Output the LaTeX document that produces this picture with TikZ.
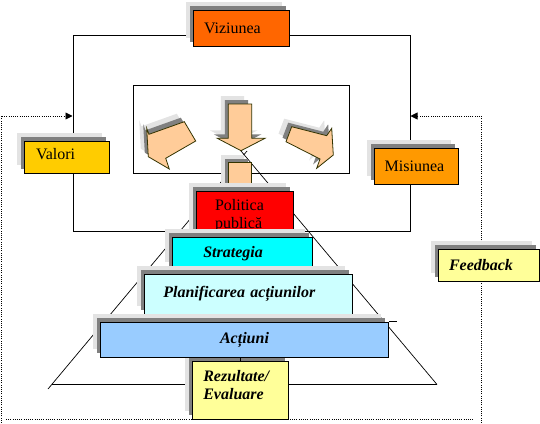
\documentclass[tikz,border=0pt]{standalone}
\usepackage{fontspec}
\setmainfont{Liberation Serif}
\usetikzlibrary{positioning,shadows,arrows.meta}
\definecolor{viziune}{HTML}{FF6600}
\definecolor{valori}{HTML}{FFCC00}
\definecolor{misiune}{HTML}{FF9900}
\definecolor{politica}{HTML}{FF0000}
\definecolor{strategie}{HTML}{00FFFF}
\definecolor{planificare}{HTML}{CCFFFF}
\definecolor{actiuni}{HTML}{99CCFF}
\definecolor{rezultate}{HTML}{FFFF99}
\definecolor{sageata}{HTML}{FFCC99}
\definecolor{contur}{HTML}{333300}
\definecolor{umbra}{HTML}{808080}
\definecolor{umbradeschisa}{HTML}{E3E3E3}
\tikzset{
  umbrit/.style={general shadow={fill=umbradeschisa, shadow xshift=-7.5pt, shadow yshift=8pt},
    general shadow={fill=umbra, shadow xshift=-3.5pt, shadow yshift=4pt}},
  cutie/.style={umbrit, draw, line width=1pt, inner ysep=0pt, align=left,
    font=\fontsize{16pt}{18pt}\selectfont},
  cutiebi/.style={cutie, font=\fontsize{16pt}{18pt}\selectfont\bfseries\itshape},
  sageatabloc/.style={umbrit, draw=contur, fill=sageata, line width=0.8pt},
  linie/.style={line width=1pt},
  piramida/.style={line width=0.7pt},
  retur/.style={line width=0.9pt, dash pattern=on 1pt off 1.2pt},
  varf retur/.style={-{Triangle[length=7pt,width=7pt]}}
}
\begin{document}
\begin{tikzpicture}[x=1pt,y=-1pt]
  \useasboundingbox (0,0) rectangle (540,423);
  \coordinate (retursus st) at (1,116);
  \coordinate (returjos st) at (1,423);
  \coordinate (retursus dr) at (481,116);
  \coordinate (returjos dr) at (481,423);
  \coordinate (baza retur st) at (6,419);
  \coordinate (baza retur dr) at (473,419);
  \node[draw, linie, minimum width=337pt, minimum height=196pt, inner sep=0pt] (cadru) at (241.5,133) {};
  \node[draw, linie, minimum width=216pt, minimum height=88.5pt, inner sep=0pt] (interior) at (241,129.25) {};
  \draw[retur, varf retur] (returjos st) -- (retursus st) -- (retursus st -| cadru.west);
  \draw[retur, varf retur] (returjos dr) -- (retursus dr) -- (retursus dr -| cadru.east);
  \draw[retur] (baza retur st) -- (baza retur dr);
  \coordinate (varf) at (241,151);
  \coordinate (varf st) at (247,151);
  \coordinate (baza st) at (48,389);
  \coordinate (baza dr) at (437,384.5);
  \begin{scope}[piramida]
    \draw (varf st) -- (baza st);
    \draw (varf) -- (baza dr);
    \draw (52,384.5) -- (baza dr);
  \end{scope}
  \draw[sageatabloc] (146.7,128.3) -- (149,134.3) -- (184.3,121.7) -- (195.7,141) -- (165.7,158.3)
    -- (169.3,169) -- (148.3,156.7) -- cycle;
  \draw[sageatabloc] (228.3,104) -- (251.7,104) -- (251.7,138.3) -- (265,138.3) -- (241,150.7)
    -- (217.3,138.3) -- (228.3,138.3) -- cycle;
  \draw[sageatabloc] (291.7,126.7) -- (326.7,135.7) -- (331.7,128.3) -- (333.3,155) -- (316.7,168.3)
    -- (320,159) -- (286,141.7) -- cycle;
  \node[sageatabloc, minimum width=23.4pt, minimum height=28pt, inner sep=0pt] (tulpina) at (240,176.7) {};
  \node[cutie, fill=viziune, minimum width=96pt, minimum height=36pt, text width=74pt, inner xsep=11pt] (viziunea) at (241,28) {Viziunea};
  \node[cutie, fill=valori, minimum width=85pt, minimum height=32pt, text width=61pt, inner xsep=12pt, text depth=6pt] (valori) at (66.5,157) {Valori};
  \node[cutie, fill=misiune, minimum width=84pt, minimum height=36pt, text width=62.6pt, inner xsep=10.7pt] (misiunea) at (416,166) {Misiunea};
  \node[cutie, fill=politica, minimum width=97pt, minimum height=49pt, text width=59pt, inner xsep=19pt] (politica) at (244.5,215.5) {Politica\\publică};
  \node[cutiebi, fill=strategie, minimum width=140pt, minimum height=33pt, text width=78.8pt, inner xsep=30.6pt] (strategia) at (242.7,253.5) {Strategia};
  \node[cutiebi, fill=planificare, minimum width=208pt, minimum height=40pt, text width=170pt, inner xsep=19pt] (planificarea) at (248.3,294) {Planificarea acțiunilor};
  \node[cutiebi, fill=rezultate, minimum width=96.4pt, minimum height=58pt, text width=74.4pt, inner xsep=11pt, text depth=28pt] (rezultate) at (240.5,390) {Rezultate/\\Evaluare};
  \node[cutiebi, fill=actiuni, minimum width=287.6pt, minimum height=35pt, text width=250pt, inner xsep=18.8pt, align=center] (actiuni) at (244.5,339.5) {Acțiuni};
  \node[cutiebi, fill=rezultate, minimum width=101pt, minimum height=32pt, text width=79pt, inner xsep=11pt] (feedback) at (488.5,265) {Feedback};
  \draw[linie] (actiuni.south -| rezultate.north) -- (rezultate.north);
  \draw[linie] (actiuni.north east) -- ++(8,0);
\end{tikzpicture}
\end{document}
